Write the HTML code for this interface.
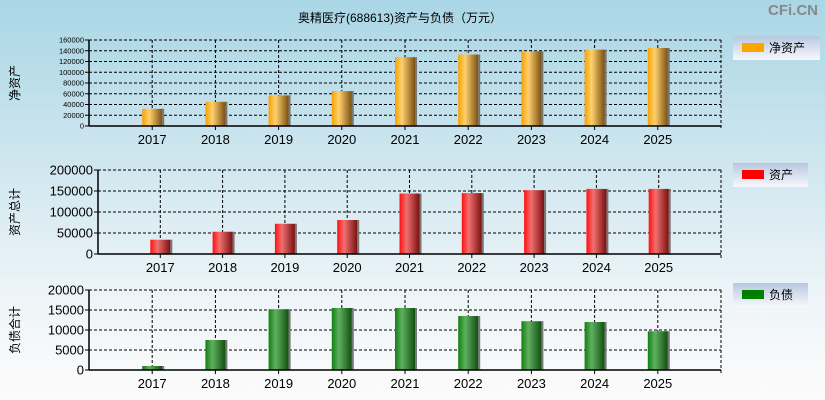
<!DOCTYPE html>
<html><head><meta charset="utf-8">
<style>
body{margin:0;width:825px;height:400px;overflow:hidden;font-family:"Liberation Sans","Noto Sans CJK SC",sans-serif;}
#bg{position:absolute;left:0;top:0;width:825px;height:400px;background:linear-gradient(#a9d6e5 0%,#cfe6ef 40%,#eef5f8 75%,#fdfbfb 100%);}
</style></head>
<body>
<div id="bg"></div>
<svg id="svg" width="825" height="400" style="position:absolute;left:0;top:0">
<defs>
<linearGradient id="gOr" x1="0" x2="1"><stop offset="0" stop-color="#f5a200"/><stop offset="0.35" stop-color="#ffd070"/><stop offset="1" stop-color="#7a5010"/></linearGradient>
<linearGradient id="gRd" x1="0" x2="1"><stop offset="0" stop-color="#ff1010"/><stop offset="0.35" stop-color="#f07070"/><stop offset="1" stop-color="#7a1010"/></linearGradient>
<linearGradient id="gGr" x1="0" x2="1"><stop offset="0" stop-color="#108010"/><stop offset="0.35" stop-color="#60b060"/><stop offset="1" stop-color="#105010"/></linearGradient>
<linearGradient id="gLeg" x1="0" y1="0" x2="0" y2="1"><stop offset="0" stop-color="#b8c8e0"/><stop offset="1" stop-color="#f8f8fc"/></linearGradient>
</defs>
<text x="400" y="22" font-size="12" text-anchor="middle" fill="#000">奥精医疗(688613)资产与负债（万元）</text>
<text x="818" y="15" font-size="15" font-weight="bold" text-anchor="end" fill="#888">CFi.CN</text>
</svg>
<script>
const years=["2017","2018","2019","2020","2021","2022","2023","2024","2025"];
const netAssets=[32000,45000,57000,65000,128000,133000,139000,142000,145000];
const totalAssets=[34000,53000,72000,81000,144000,145000,152000,155000,155000];
const liabilities=[1000,7500,15200,15500,15500,13500,12200,12000,9700];
const ticks1=[0,20000,40000,60000,80000,100000,120000,140000,160000];
const ticks2=[0,50000,100000,150000,200000];
const ticks3=[0,5000,10000,15000,20000];
const NS="http://www.w3.org/2000/svg";
const svg=document.getElementById('svg');
function mk(tag,attrs,parent){const e=document.createElementNS(NS,tag);for(const k in attrs)e.setAttribute(k,attrs[k]);(parent||svg).appendChild(e);return e;}
function panel(o){
  const g=mk('g',{});
  
  
  const slot=(o.r-o.l)/10;
  const xs=i=>o.l+(i+1)*slot;
  const ys=v=>o.b-(v/o.max)*(o.b-o.t);
  // grid
  o.ticks.forEach(t=>{
    const y=ys(t);
    if(t>0){const ln=mk('line',{x1:o.l,x2:o.r,y1:y,y2:y,stroke:'#000','stroke-dasharray':'3,2','stroke-width':1},g);
      }
    mk('line',{x1:o.l-4,x2:o.l,y1:y,y2:y,stroke:'#000'},g);
    const tx=mk('text',{x:o.l-5,y:y+o.fs*0.36,'font-size':o.fs,'text-anchor':'end',fill:'#000'},g);
    tx.textContent=t;
    
    
  });
  years.forEach((yr,i)=>{
    const x=xs(i);
    const ln=mk('line',{x1:x,x2:x,y1:o.t,y2:o.b,stroke:'#000','stroke-dasharray':'3,2'},g);
    
    mk('line',{x1:x,x2:x,y1:o.b,y2:o.b+4,stroke:'#000'},g);
  });
  mk('line',{x1:o.r,x2:o.r,y1:o.t,y2:o.b+4,stroke:'#000','stroke-dasharray':'3,2'},g);
  mk('line',{x1:o.l,x2:o.r,y1:o.t,y2:o.t,stroke:'#000','stroke-dasharray':'3,2'},g);
  // bars
  o.data.forEach((v,i)=>{
    const x=xs(i),y=ys(v);
    mk('rect',{x:x+10,y:y,width:2,height:o.b-y,fill:'#777'},g);
    const r=mk('rect',{x:x-10,y:y,width:20,height:o.b-y,fill:o.fill},g);
    
    
  });
  mk('line',{x1:o.l,x2:o.l,y1:o.t,y2:o.b,stroke:'#000','stroke-width':1.5},g);
  mk('line',{x1:o.l,x2:o.r,y1:o.b,y2:o.b,stroke:'#000','stroke-width':1.5},g);
  years.forEach((yr,i)=>{
    const tx=mk('text',{x:xs(i),y:o.b+18,'font-size':13,'text-anchor':'middle',fill:'#000'},g);
    tx.textContent=yr;
    
    
  });
  const cy=(o.t+o.b)/2;
  const at=mk('text',{x:0,y:0,'font-size':12,'text-anchor':'middle',fill:'#000',transform:`translate(19,${cy}) rotate(-90)`},g);
  at.textContent=o.title;
  
  
  // legend
  const lg=mk('g',{},g);
  
  
  mk('rect',{x:733,y:o.ly,width:o.lw,height:24,fill:'url(#gLeg)'},lg);
  mk('rect',{x:742,y:o.ly+7,width:22,height:9,fill:o.lc},lg);
  const lt=mk('text',{x:769,y:o.ly+16,'font-size':12,fill:'#000'},lg);
  lt.textContent=o.label;
}
panel({name:'net-assets',l:89,r:721,t:40,b:126,max:160000,ticks:ticks1,data:netAssets,fill:'url(#gOr)',fs:7.5,title:'净资产',label:'净资产',lc:'#ffa500',ly:36,lw:87});
panel({name:'total-assets',l:98,r:721,t:170,b:254,max:200000,ticks:ticks2,data:totalAssets,fill:'url(#gRd)',fs:13,title:'资产总计',label:'资产',lc:'#ff0000',ly:163,lw:75});
panel({name:'liabilities',l:89,r:721,t:290,b:370,max:20000,ticks:ticks3,data:liabilities,fill:'url(#gGr)',fs:13,title:'负债合计',label:'负债',lc:'#008000',ly:283,lw:75});
</script>
</body></html>
